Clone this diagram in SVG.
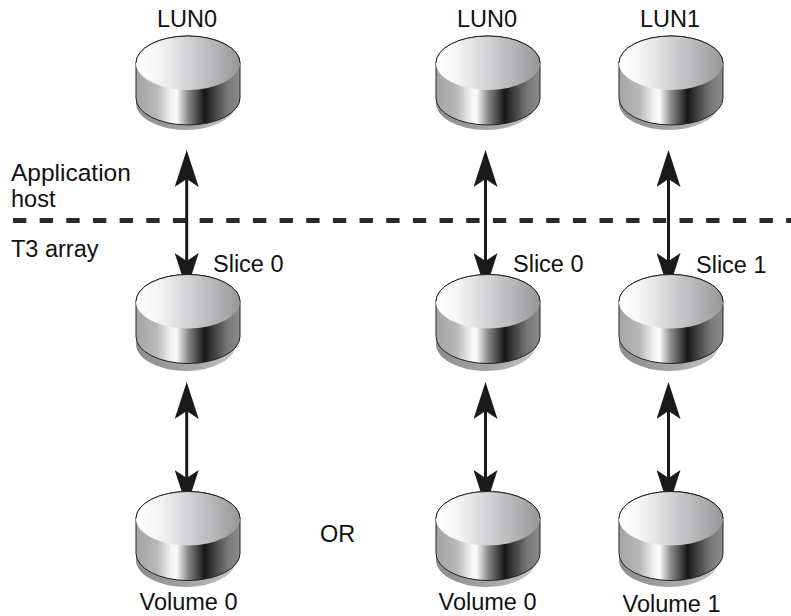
<svg xmlns="http://www.w3.org/2000/svg" width="791" height="616" viewBox="0 0 791 616">
<style>
text{font-family:"Liberation Sans",Arial,sans-serif;font-size:23.5px;fill:#111}
.c{text-anchor:middle}
.conn{stroke:#1a1a1a;stroke-width:3;fill:none;marker-start:url(#a);marker-end:url(#a)}
.dash{stroke:#2a2a2a;stroke-width:5;stroke-dasharray:13.33 13.33;fill:none}
.shadow{fill:url(#shadowG)}
.side{fill:url(#sideG);stroke:#222;stroke-width:1}
.top{fill:url(#topG)}
.rim{fill:none;stroke:#222;stroke-width:1}
</style>
<defs>
<linearGradient id="sideG" x1="0" x2="1" y1="0" y2="0">
<stop offset="0" stop-color="#a4a4a4"/><stop offset=".2" stop-color="#b8b8b8"/><stop offset=".34" stop-color="#f4f4f4"/><stop offset=".39" stop-color="#fafafa"/><stop offset=".5" stop-color="#8a8a8a"/><stop offset=".66" stop-color="#161616"/><stop offset=".72" stop-color="#333"/><stop offset=".88" stop-color="#777"/><stop offset="1" stop-color="#8c8c8c"/>
</linearGradient>
<linearGradient id="topG" x1="0" x2="1" y1="0" y2="0">
<stop offset="0" stop-color="#fff"/><stop offset=".2" stop-color="#f6f6f6"/><stop offset=".5" stop-color="#d2d3d5"/><stop offset="1" stop-color="#97979a"/>
</linearGradient>
<linearGradient id="shadowG" x1="0" x2="1" y1="0" y2="0">
<stop offset="0" stop-color="#8c8c8c"/><stop offset=".6" stop-color="#a8a8a8"/><stop offset="1" stop-color="#c8c8c8"/>
</linearGradient>
<marker id="a" viewBox="0 0 37 24" refX="22" refY="12" markerUnits="userSpaceOnUse" markerWidth="37" markerHeight="24" orient="auto-start-reverse"><path d="M0 0L37 12L0 24L8 12Z" fill="#1a1a1a"/></marker>
<ellipse id="sh" class="shadow" rx="50" ry="27"/>
<g id="disk"><path class="side" d="M-52 0V35A52 27 0 0 0 52 35V0A52 27 0 0 0 -52 0Z"/><ellipse class="top" rx="52" ry="27"/><path class="rim" d="M-52 0A52 27 0 0 1 52 0"/></g>
</defs>
<g id="connectors">
<line class="dash" x1="13" y1="220.5" x2="791" y2="220.5"/>
<line class="conn" x1="186.7" y1="165" x2="186.7" y2="275"/>
<line class="conn" x1="186.7" y1="397" x2="186.7" y2="492"/>
<line class="conn" x1="485.5" y1="165" x2="485.5" y2="275"/>
<line class="conn" x1="485.5" y1="397" x2="485.5" y2="492"/>
<line class="conn" x1="668.5" y1="165" x2="668.5" y2="275"/>
<line class="conn" x1="668.5" y1="397" x2="668.5" y2="492"/>
</g>
<g id="lun0a"><use href="#sh" x="186" y="103"/><use href="#disk" x="188" y="63"/><text class="c" x="187" y="26.5">LUN0</text></g>
<g id="lun0b"><use href="#sh" x="486" y="103"/><use href="#disk" x="488" y="63"/><text class="c" x="487" y="26.5">LUN0</text></g>
<g id="lun1"><use href="#sh" x="669" y="103"/><use href="#disk" x="671" y="63"/><text class="c" x="670" y="26.5">LUN1</text></g>
<g id="slice0a"><use href="#sh" x="186" y="344"/><use href="#disk" x="188" y="301.5"/><text x="213" y="272">Slice 0</text></g>
<g id="slice0b"><use href="#sh" x="486" y="344"/><use href="#disk" x="488" y="301.5"/><text x="513" y="272">Slice 0</text></g>
<g id="slice1"><use href="#sh" x="669" y="344"/><use href="#disk" x="671" y="301.5"/><text x="696" y="272.5">Slice 1</text></g>
<g id="vol0a"><use href="#sh" x="186" y="560"/><use href="#disk" x="188" y="518.5"/><text class="c" x="188.5" y="610">Volume 0</text></g>
<g id="vol0b"><use href="#sh" x="486" y="560"/><use href="#disk" x="488" y="518.5"/><text class="c" x="487.5" y="610">Volume 0</text></g>
<g id="vol1"><use href="#sh" x="669" y="560"/><use href="#disk" x="671" y="518.5"/><text class="c" x="671.5" y="612">Volume 1</text></g>
<text x="11" y="181" style="font-size:24.5px">Application</text>
<text x="11" y="207">host</text>
<text x="11" y="257">T3 array</text>
<text x="320" y="542">OR</text>
</svg>
